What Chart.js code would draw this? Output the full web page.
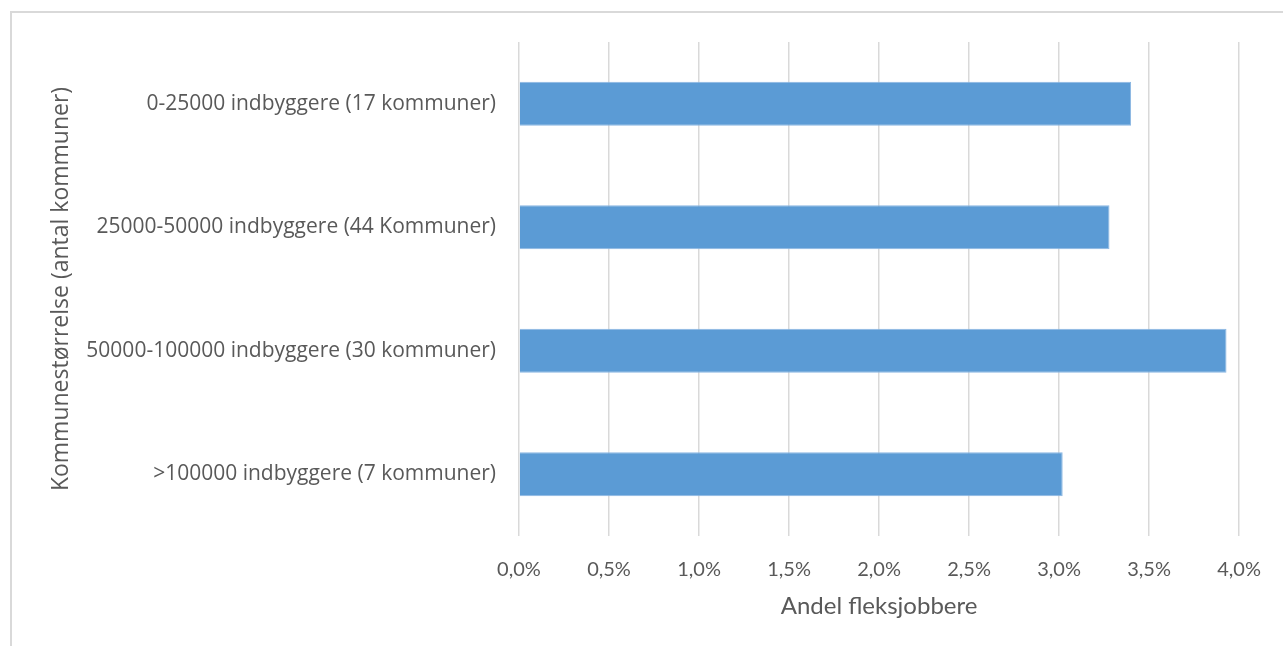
<!DOCTYPE html>
<html>
<head>
<meta charset="utf-8">
<script src="https://cdn.jsdelivr.net/npm/chart.js@4"></script>
<style>
  html, body { margin: 0; padding: 0; background: #ffffff; }
  .frame {
    position: absolute;
    left: 10px;
    top: 11px;
    width: 1400px;
    height: 800px;
    border: 2px solid #d9d9d9;
    box-sizing: border-box;
  }
  .chart-wrap {
    position: absolute;
    left: 0;
    top: 0;
    width: 1283px;
    height: 646px;
  }
</style>
</head>
<body>
<div class="frame"></div>
<div class="chart-wrap">
  <canvas id="chart" width="1283" height="646"></canvas>
</div>
<script>
const categories = [
  `0-25000 indbyggere (17 kommuner)`,
  `25000-50000 indbyggere (44 Kommuner)`,
  `50000-100000 indbyggere (30 kommuner)`,
  `>100000 indbyggere (7 kommuner)`
];

// andel fleksjobbere, i procent
const shares = [3.40, 3.28, 3.93, 3.02];

const xTicks = [0, 0.5, 1, 1.5, 2, 2.5, 3, 3.5, 4];

const TEXT_COLOR = `#595959`;
const GRID_COLOR = `#d9d9d9`;

const formatPercent = (value) => {
  return value.toFixed(1).replace(`.`, `,`) + `%`;
};

const ctx = document.getElementById(`chart`).getContext(`2d`);

new Chart(ctx, {
  type: `bar`,
  data: {
    labels: categories,
    datasets: [{
      data: shares,
      backgroundColor: `#5b9bd5`,
      borderColor: `#8ab6e2`,
      borderWidth: 1,
      categoryPercentage: 1,
      barPercentage: 0.355
    }]
  },
  options: {
    indexAxis: `y`,
    responsive: false,
    animation: false,
    layout: {
      padding: {top: 42, right: 38, bottom: 10, left: 0}
    },
    plugins: {
      legend: {display: false},
      tooltip: {enabled: false}
    },
    scales: {
      x: {
        min: 0,
        max: 4,
        afterBuildTicks: (scale) => {
          scale.ticks = xTicks.map((value) => ({value}));
        },
        afterFit: (scale) => {
          scale.height = 100;
        },
        border: {display: false},
        grid: {
          color: GRID_COLOR,
          lineWidth: 1.5,
          drawTicks: false
        },
        ticks: {
          color: TEXT_COLOR,
          padding: 22,
          font: {family: `Lato`, size: 20},
          callback: (value) => formatPercent(value)
        },
        title: {
          display: true,
          text: `Andel fleksjobbere`,
          color: TEXT_COLOR,
          font: {family: `Lato`, size: 24},
          padding: {top: 0, bottom: 15}
        }
      },
      y: {
        afterFit: (scale) => {
          scale.width = 519;
        },
        border: {display: false},
        grid: {display: false, drawTicks: false},
        ticks: {
          color: TEXT_COLOR,
          padding: 23,
          font: {family: `Open Sans`, size: 21}
        },
        title: {
          display: true,
          text: `Kommunestørrelse (antal kommuner)`,
          color: TEXT_COLOR,
          font: {family: `Open Sans`, size: 23},
          padding: {top: 48, bottom: 0}
        }
      }
    }
  }
});
</script>
</body>
</html>
